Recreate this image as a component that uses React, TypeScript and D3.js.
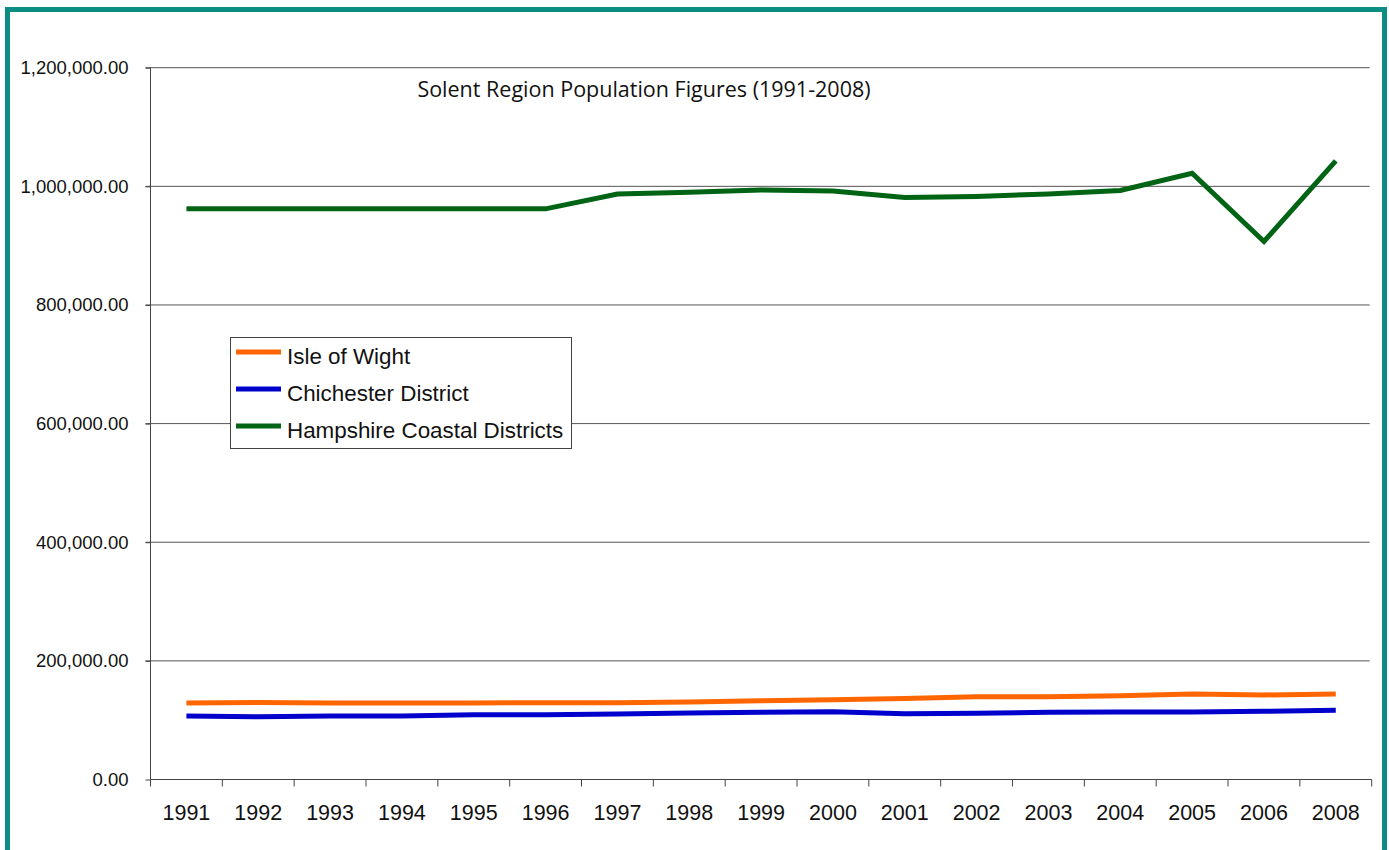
import { useEffect, useRef } from 'react';
import * as d3 from 'd3';

const years = ['1991', '1992', '1993', '1994', '1995', '1996', '1997', '1998', '1999', '2000', '2001', '2002', '2003', '2004', '2005', '2006', '2008'];
const isleOfWight = [129000, 130000, 129000, 129000, 129000, 129500, 129500, 130600, 132800, 134500, 136500, 139600, 139600, 141300, 144100, 142500, 144100];
const chichester = [107000, 105900, 107000, 107000, 109200, 109200, 110400, 112100, 113300, 114300, 111000, 111600, 113300, 113800, 113800, 115000, 116600];
const hampshire = [962000, 962000, 962000, 962000, 962000, 962000, 987000, 990000, 994000, 992000, 981000, 983000, 987000, 993000, 1022000, 907000, 1043000];
const yTicks = [0, 200000, 400000, 600000, 800000, 1000000, 1200000];

const seriesNames = ['Isle of Wight', 'Chichester District', 'Hampshire Coastal Districts'];
const seriesValues = [isleOfWight, chichester, hampshire];
const seriesColors = ['#ff6600', '#0000cc', '#006414'];

const App = () => {
  const svgRef = useRef<SVGSVGElement>(null);

  useEffect(() => {
    const svg = d3.select(svgRef.current);
    svg.selectAll('*').remove();

    const left = 150.5, right = 1371.7, top = 67.7, bottom = 779.5;

    // frame
    svg.append('rect')
      .attr('x', 7.5).attr('y', 9.5)
      .attr('width', 1377).attr('height', 900)
      .attr('fill', '#fff')
      .attr('stroke', '#0b8c84')
      .attr('stroke-width', 5);

    const x = d3.scaleBand().domain(years).range([left, right]);
    const y = d3.scaleLinear().domain([0, 1200000]).range([bottom, top]);

    // gridlines
    svg.append('g')
      .selectAll('line')
      .data(yTicks.filter(d => d > 0))
      .join('line')
      .attr('x1', left - 5).attr('x2', right - 2)
      .attr('y1', d => y(d)).attr('y2', d => y(d))
      .attr('stroke', '#555')
      .attr('stroke-width', 1);

    // y axis
    const yAxis = svg.append('g')
      .attr('transform', `translate(${left},0)`)
      .call(d3.axisLeft(y).tickValues(yTicks).tickSize(5).tickFormat(d => d3.format(',.2f')(d as number)));
    yAxis.select('.domain').attr('stroke', '#444').attr('d', `M0,${top}V${bottom}`);
    yAxis.selectAll('.tick line').attr('stroke', '#444');
    yAxis.selectAll('.tick text')
      .attr('x', -22)
      .attr('font-family', 'Liberation Sans, Arial, sans-serif')
      .attr('font-size', 18.5)
      .attr('fill', '#111');

    // x axis
    const xAxis = svg.append('g')
      .attr('transform', `translate(0,${bottom})`)
      .call(d3.axisBottom(x).tickSize(0));
    xAxis.select('.domain').remove();
    xAxis.selectAll('.tick text')
      .attr('y', 40)
      .attr('dy', null)
      .attr('font-family', 'Liberation Sans, Arial, sans-serif')
      .attr('font-size', 21.5)
      .attr('fill', '#111');
    svg.append('line')
      .attr('x1', left).attr('x2', right)
      .attr('y1', bottom).attr('y2', bottom)
      .attr('stroke', '#444');
    svg.append('g')
      .selectAll('line')
      .data(years)
      .join('line')
      .attr('x1', d => x(d)!).attr('x2', d => x(d)!)
      .attr('y1', bottom).attr('y2', bottom + 7)
      .attr('stroke', '#444');
    svg.append('line')
      .attr('x1', right).attr('x2', right)
      .attr('y1', bottom).attr('y2', bottom + 7)
      .attr('stroke', '#444');

    // lines
    const line = d3.line<number>()
      .x((_, i) => x(years[i])! + x.bandwidth() / 2)
      .y(d => y(d));
    seriesValues.forEach((vals, i) => {
      svg.append('path')
        .datum(vals)
        .attr('d', line)
        .attr('fill', 'none')
        .attr('stroke', seriesColors[i])
        .attr('stroke-width', 5);
    });

    // title
    svg.append('text')
      .attr('x', 644).attr('y', 97)
      .attr('text-anchor', 'middle')
      .attr('font-family', 'Open Sans, sans-serif')
      .attr('font-size', 21.5)
      .attr('fill', '#111')
      .text('Solent Region Population Figures (1991-2008)');

    // legend
    const lg = svg.append('g');
    lg.append('rect')
      .attr('x', 230.5).attr('y', 337.5)
      .attr('width', 341).attr('height', 111)
      .attr('fill', '#fff')
      .attr('stroke', '#444');
    seriesNames.forEach((name, i) => {
      const ly = 352 + i * 37;
      lg.append('line')
        .attr('x1', 236).attr('x2', 281)
        .attr('y1', ly).attr('y2', ly)
        .attr('stroke', seriesColors[i])
        .attr('stroke-width', 5);
      lg.append('text')
        .attr('x', 287).attr('y', ly + 12)
        .attr('font-family', 'Liberation Sans, Arial, sans-serif')
        .attr('font-size', 22.4)
        .attr('fill', '#111')
        .text(name);
    });
  }, []);

  return (
    <svg ref={svgRef} width={1389} height={850}
      style={{ position: 'absolute', left: 0, top: 0, display: 'block' }} />
  );
};

export default App;
